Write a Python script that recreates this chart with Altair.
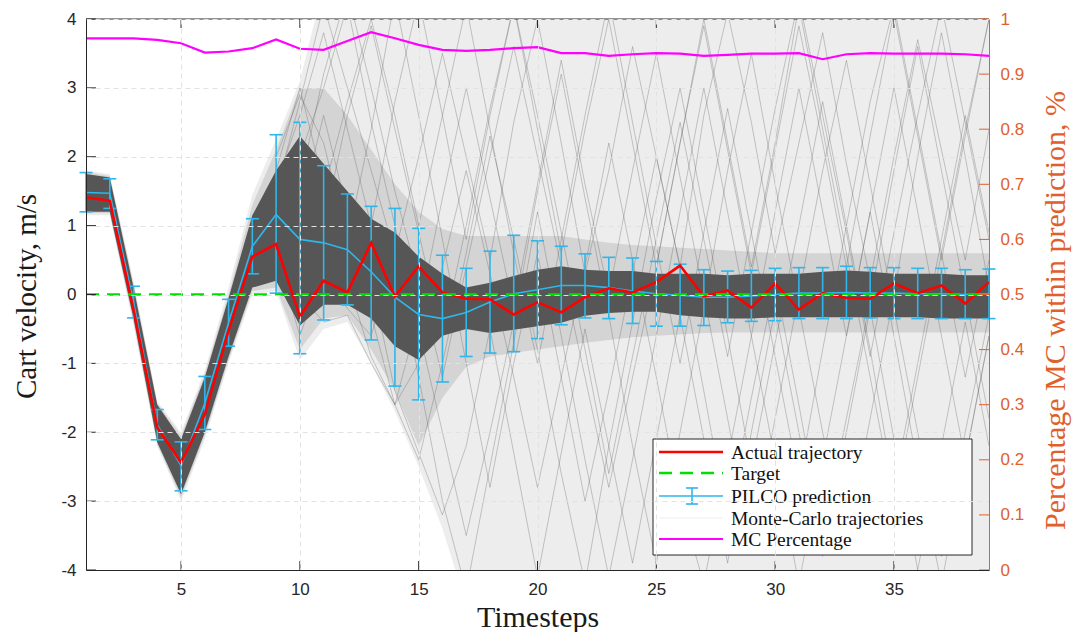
import altair as alt
import pandas as pd

# ---------------- data ----------------
T = list(range(1, 40))

ACTUAL = [1.41, 1.36, -0.22, -1.93, -2.44, -1.74, -0.52, 0.55, 0.73, -0.32,
          0.20, 0.03, 0.75, -0.03, 0.41, 0.03, -0.06, -0.07, -0.29, -0.11,
          -0.26, -0.04, 0.09, 0.03, 0.18, 0.42, -0.03, 0.06, -0.19, 0.16,
          -0.22, 0.02, -0.05, -0.06, 0.16, 0.02, 0.13, -0.13, 0.18]

TARGET = [0.0] * 39

PRED_MEAN = [1.48, 1.47, -0.11, -1.89, -2.49, -1.58, -0.41, 0.70, 1.16, 0.80,
             0.75, 0.65, 0.33, -0.04, -0.29, -0.35, -0.26, -0.11, 0.01, 0.07,
             0.13, 0.13, 0.10, 0.05, 0.01, -0.01, -0.04, -0.04, -0.02, 0.00,
             0.02, 0.02, 0.03, 0.02, 0.02, 0.01, 0.01, 0.00, 0.01]
PRED_HI = [1.77, 1.68, 0.12, -1.67, -2.14, -1.19, -0.07, 1.10, 2.32, 2.50,
           1.87, 1.46, 1.28, 1.25, 0.96, 0.57, 0.38, 0.63, 0.86, 0.78,
           0.70, 0.59, 0.54, 0.53, 0.48, 0.44, 0.36, 0.34, 0.35, 0.38,
           0.39, 0.39, 0.41, 0.39, 0.39, 0.38, 0.38, 0.36, 0.37]
PRED_LO = [1.20, 1.25, -0.34, -2.11, -2.85, -1.96, -0.75, 0.30, 0.02, -0.86,
           -0.37, -0.15, -0.66, -1.33, -1.53, -1.27, -0.90, -0.85, -0.83, -0.64,
           -0.44, -0.34, -0.35, -0.42, -0.46, -0.46, -0.45, -0.41, -0.39, -0.38,
           -0.35, -0.35, -0.35, -0.34, -0.35, -0.35, -0.35, -0.35, -0.35]

MC_PCT = [0.965, 0.965, 0.965, 0.962, 0.956, 0.939, 0.941, 0.947, 0.963, 0.946,
          0.944, 0.960, 0.976, 0.965, 0.953, 0.944, 0.942, 0.944, 0.947, 0.949,
          0.938, 0.938, 0.933, 0.936, 0.938, 0.937, 0.933, 0.935, 0.937, 0.937,
          0.938, 0.927, 0.936, 0.938, 0.937, 0.937, 0.937, 0.936, 0.933]

# Monte-Carlo cloud: outer (faint) extent, medium-density band, dense core
OUTER_LO = [1.15, 1.15, -0.45, -2.20, -3.00, -2.10, -1.00, 0.00, 0.05, -0.95,
            -0.50, -0.40, -1.00, -1.70, -2.50, -3.40, -4.5, -4.5, -4.5, -4.5,
            -4.5, -4.5, -4.5, -4.5, -4.5, -4.5, -4.5, -4.5, -4.5, -4.5,
            -4.5, -4.5, -4.5, -4.5, -4.5, -4.5, -4.5, -4.5, -4.5]
OUTER_HI = [1.80, 1.75, 0.20, -1.55, -2.00, -1.10, 0.10, 1.45, 2.25, 3.10,
            4.5, 4.5, 4.5, 4.5, 4.5, 4.5, 4.5, 4.5, 4.5, 4.5,
            4.5, 4.5, 4.5, 4.5, 4.5, 4.5, 4.5, 4.5, 4.5, 4.5,
            4.5, 4.5, 4.5, 4.5, 4.5, 4.5, 4.5, 4.5, 4.5]
MID_LO = [1.18, 1.18, -0.40, -2.18, -2.95, -2.05, -0.95, 0.05, 0.10, -0.80,
          -0.35, -0.30, -0.80, -1.40, -2.20, -1.50, -1.05, -0.90, -0.85, -0.80,
          -0.75, -0.70, -0.66, -0.62, -0.60, -0.58, -0.56, -0.55, -0.55, -0.55,
          -0.55, -0.55, -0.55, -0.55, -0.55, -0.55, -0.55, -0.55, -0.55]
MID_HI = [1.78, 1.72, 0.15, -1.58, -2.05, -1.15, 0.00, 1.30, 2.10, 3.00,
          3.00, 2.60, 2.10, 1.60, 1.20, 0.95, 0.85, 0.85, 0.85, 0.85,
          0.85, 0.80, 0.75, 0.72, 0.70, 0.68, 0.66, 0.64, 0.62, 0.60,
          0.60, 0.60, 0.60, 0.60, 0.60, 0.60, 0.60, 0.60, 0.60]
CORE_LO = [1.20, 1.20, -0.35, -2.15, -2.90, -2.00, -0.90, 0.10, 0.20, -0.45,
           -0.15, -0.15, -0.35, -0.75, -0.95, -0.60, -0.50, -0.56, -0.51, -0.46,
           -0.41, -0.31, -0.27, -0.25, -0.25, -0.30, -0.33, -0.35, -0.35, -0.33,
           -0.33, -0.33, -0.33, -0.33, -0.33, -0.33, -0.35, -0.35, -0.35]
CORE_HI = [1.75, 1.70, 0.10, -1.60, -2.10, -1.20, -0.05, 1.15, 1.80, 2.30,
           1.90, 1.50, 1.10, 0.90, 0.55, 0.30, 0.10, 0.17, 0.27, 0.36,
           0.41, 0.36, 0.34, 0.34, 0.30, 0.30, 0.30, 0.28, 0.30, 0.30,
           0.30, 0.33, 0.35, 0.33, 0.30, 0.30, 0.30, 0.28, 0.28]

# individual Monte-Carlo trajectories visible in the faint cloud (t = 9 .. 39)
SAMPLE_START = 9
SAMPLES = {
    "A": [1.5, 2.8, 4.2, 3.0, 1.8, 0.6, 2.0, 3.5, 2.0, 0.5, 2.5, 4.0, 2.2, 0.3, 1.8, 3.6,
          2.0, 0.4, 2.6, 4.1, 2.5, 0.6, 2.2, 3.8, 1.9, 0.2, 2.0, 3.7, 2.1, 0.5, 2.4],
    "B": [1.0, 2.0, 3.0, 4.2, 2.5, 1.0, -0.5, -2.0, -3.5, -2.0, -0.4, 1.5, 3.2, 1.4, -0.3, -2.2,
          -3.9, -2.0, -0.2, 1.8, 3.5, 1.6, -0.2, -2.0, -3.6, -1.8, 0.0, 2.0, 3.8, 2.0, 0.1],
    "C": [0.5, 1.2, 2.6, 1.2, -0.3, -1.6, -2.4, -1.0, 0.6, 2.3, 0.8, -0.8, -2.6, -4.2, -2.2, -0.4,
          1.4, 3.0, 1.2, -0.6, -2.5, -0.7, 1.0, 2.8, 1.0, -0.8, -2.8, -1.0, 0.8, 2.6, 0.9],
    "D": [2.0, 2.9, 2.2, 0.8, 2.4, 4.3, 2.6, 0.8, -1.0, -2.8, -1.0, 0.6, -1.2, -3.0, -1.4, 0.3,
          2.0, 0.4, -1.4, -3.3, -1.5, 0.2, -1.6, -3.5, -1.8, -0.1, 1.8, 3.6, 1.8, 0.0, -1.8],
    "E": [0.2, 0.6, 1.5, 2.8, 4.0, 2.6, 1.0, 2.6, 4.2, 2.4, 0.6, -1.0, 0.8, 2.6, 4.3, 2.5,
          0.7, -1.0, 0.9, 2.7, 0.9, -0.9, -2.7, -0.8, 1.0, 2.8, 4.2, 2.4, 0.6, -1.2, 0.5],
    "F": [1.2, 0.0, -0.4, -0.3, -1.0, -1.6, -0.3, 1.4, 3.0, 1.4, -0.2, 1.6, 3.4, 1.6, 0.0, 1.8,
          3.5, 1.7, 0.0, -1.8, -3.6, -1.8, 0.0, 1.8, 3.4, 1.6, -0.2, -2.0, -3.8, -2.0, -0.3],
    "G": [0.8, 1.6, 3.2, 4.4, 3.0, 1.5, 0.2, -1.2, 0.4, 2.0, 3.6, 2.0, 0.4, -1.2, -2.8, -1.2,
          0.4, 2.2, 4.0, 2.2, 0.4, 2.2, 4.2, 2.4, 0.6, -1.2, -3.0, -1.2, 0.6, 2.4, 4.0],
    "H": [1.8, 3.0, 1.6, 0.2, -0.9, -1.6, -1.0, 0.4, 1.8, 0.3, -1.2, -2.8, -1.2, 0.4, 2.2, 0.5,
          -1.2, -3.0, -4.2, -2.4, -0.6, 1.2, 3.0, 1.2, -0.6, 1.2, 3.0, 1.2, -0.6, -2.4, -0.6],
    "I": [1.6, 2.6, 3.8, 2.4, 1.0, 2.8, 4.3, 2.6, 0.8, 2.6, 4.2, 2.4, 0.6, 2.4, 4.0, 2.2,
          0.4, 2.2, 3.9, 2.1, 0.3, 2.1, 3.9, 2.2, 0.4, 2.3, 4.1, 2.3, 0.5, 2.3, 4.0],
    "J": [0.6, -0.6, 0.4, 1.4, 0.2, -1.4, -2.3, -3.2, -2.2, -0.5, -2.3, -4.1, -2.3, -0.5, -2.2, -3.9,
          -2.1, -0.3, -2.1, -3.9, -2.0, -0.2, -2.0, -3.8, -2.0, -0.2, -2.1, -4.0, -2.2, -0.4, -2.2],
    "K": [1.4, 2.2, 1.0, 2.6, 3.9, 2.4, 0.9, -0.6, 1.0, 2.7, 4.2, 2.6, 0.9, -0.8, -2.6, -0.9,
          0.8, 2.5, 0.8, -0.9, 0.9, 2.7, 4.3, 2.6, 0.9, -0.9, 0.9, 2.6, 4.2, 2.5, 0.8],
    "L": [0.9, -0.3, 0.3, -0.2, -0.6, 0.6, -1.2, -3.0, -4.3, -2.5, -0.7, 1.2, -0.6, -2.4, -4.1, -2.4,
          -0.6, 1.2, 3.0, 1.2, -0.6, -2.4, -4.2, -2.4, -0.6, 1.2, -0.6, -2.5, -4.2, -2.4, -0.6],
}

X_TICKS = [5, 10, 15, 20, 25, 30, 35]
Y_TICKS = [-4, -3, -2, -1, 0, 1, 2, 3, 4]
R_TICKS = [0, 0.1, 0.2, 0.3, 0.4, 0.5, 0.6, 0.7, 0.8, 0.9, 1.0]

LEGEND_LABELS = ["Actual trajectory", "Target", "PILCO prediction",
                 "Monte-Carlo trajectories", "MC Percentage"]

# ---------------- styling ----------------
W, H = 903, 551
RED = "#FF0000"
GREEN = "#00E000"
CYAN = "#2FB6EA"
MAGENTA = "#FF00FF"
ORANGE = "#E0602C"
AXC = "#262626"
SERIF = "Liberation Serif"
SANS = "Liberation Sans"

df = pd.DataFrame({
    "t": T, "actual": ACTUAL, "target": TARGET,
    "mean": PRED_MEAN, "hi": PRED_HI, "lo": PRED_LO, "mc": MC_PCT,
    "olo": OUTER_LO, "ohi": OUTER_HI, "mlo": MID_LO, "mhi": MID_HI,
    "clo": CORE_LO, "chi": CORE_HI,
})

rows = []
for name, vals in SAMPLES.items():
    for i, v in enumerate(vals):
        rows.append({"t": SAMPLE_START + i, "v": v, "id": name})
df_samples = pd.DataFrame(rows)

xsc = alt.Scale(domain=[1, 39], nice=False, zero=False)
ysc = alt.Scale(domain=[-4, 4], nice=False, zero=False)
rsc = alt.Scale(domain=[0, 1], nice=False, zero=False)

xax = alt.Axis(values=X_TICKS, title="Timesteps", grid=True, gridDash=[5, 4],
               gridColor="#e2e2e2", ticks=False, labelFont=SANS, labelFontSize=17,
               labelColor=AXC, labelPadding=11, domainColor=AXC, domainWidth=1,
               titleFont=SERIF, titleFontSize=30, titleFontWeight="normal",
               titleColor="#1a1a1a", titleX=W / 2, titleY=47, titleBaseline="middle",
               titleAlign="center", zindex=1)
yax = alt.Axis(values=Y_TICKS, title="Cart velocity, m/s", grid=True, gridDash=[5, 4],
               gridColor="#e2e2e2", ticks=False, labelFont=SANS, labelFontSize=17,
               labelColor=AXC, labelPadding=10, labelExpr="'' + datum.value",
               domainColor=AXC, domainWidth=1, titleFont=SERIF, titleFontSize=29,
               titleFontWeight="normal", titleColor="#1a1a1a", titleAngle=270,
               titleX=-60, titleY=277, titleBaseline="middle", titleAlign="center",
               zindex=1)
rax = alt.Axis(values=R_TICKS, orient="right", title="Percentage MC within prediction, %",
               grid=False, ticks=False, format=".1~f", labelFont=SANS, labelFontSize=17,
               labelColor=ORANGE, labelPadding=11, domainColor=ORANGE, domainWidth=1,
               titleFont=SERIF, titleFontSize=30, titleFontWeight="normal",
               titleColor=ORANGE, titleAngle=270, titleX=66, titleY=291,
               titleBaseline="middle", titleAlign="center", zindex=1)

X = alt.X("t:Q", scale=xsc, axis=xax)

base = alt.Chart(df)

outer = base.mark_area(color="#c8c8c8", opacity=0.33, clip=True).encode(
    x=X, y=alt.Y("olo:Q", scale=ysc, axis=yax), y2="ohi:Q")
mid = base.mark_area(color="#8a8a8a", opacity=0.25, clip=True).encode(
    x=X, y=alt.Y("mlo:Q", scale=ysc, axis=yax), y2="mhi:Q")
core = base.mark_area(color="#3a3a3a", opacity=0.82, clip=True).encode(
    x=X, y=alt.Y("clo:Q", scale=ysc, axis=yax), y2="chi:Q")
samples = alt.Chart(df_samples).mark_line(color="#5a5a5a", opacity=0.4,
                                          strokeWidth=0.8, clip=True).encode(
    x=X, y=alt.Y("v:Q", scale=ysc, axis=yax), detail="id:N")

pred_line = base.mark_line(color=CYAN, strokeWidth=1.6).encode(
    x=X, y=alt.Y("mean:Q", scale=ysc, axis=yax))
pred_bar = base.mark_rule(color=CYAN, strokeWidth=1.6).encode(
    x=X, y=alt.Y("lo:Q", scale=ysc, axis=yax), y2="hi:Q")
cap_hi = base.mark_tick(color=CYAN, orient="horizontal", size=13, thickness=1.6,
                        opacity=1).encode(x=X, y=alt.Y("hi:Q", scale=ysc, axis=yax))
cap_lo = base.mark_tick(color=CYAN, orient="horizontal", size=13, thickness=1.6,
                        opacity=1).encode(x=X, y=alt.Y("lo:Q", scale=ysc, axis=yax))

actual = base.mark_line(color=RED, strokeWidth=2.6).encode(
    x=X, y=alt.Y("actual:Q", scale=ysc, axis=yax))
target = base.mark_line(color=GREEN, strokeWidth=2.6, strokeDash=[13, 8]).encode(
    x=X, y=alt.Y("target:Q", scale=ysc, axis=yax))

# inward tick marks (MATLAB style) and top frame line
df_yt = pd.DataFrame({"v": Y_TICKS})
df_xt = pd.DataFrame({"t": X_TICKS})
df_rt = pd.DataFrame({"v": R_TICKS})
left_ticks = alt.Chart(df_yt).mark_rule(color=AXC, strokeWidth=1).encode(
    y=alt.Y("v:Q", scale=ysc, axis=yax), x=alt.value(0), x2=alt.value(10))
bottom_ticks = alt.Chart(df_xt).mark_rule(color=AXC, strokeWidth=1).encode(
    x=X, y=alt.value(H), y2=alt.value(H - 9))
top_ticks = alt.Chart(df_xt).mark_rule(color=AXC, strokeWidth=1).encode(
    x=X, y=alt.value(0), y2=alt.value(9))
top_line = alt.Chart(df_xt.head(1)).mark_rule(color=AXC, strokeWidth=1).encode(
    x=alt.value(0), x2=alt.value(W), y=alt.value(0))

# legend box (drawn as marks)
one = pd.DataFrame({"k": [0]})
LX0, LX1, LY0, LY1 = 567, 886, 420, 536
ROW_Y = [433, 454, 477, 499, 520]
legend_layers = [
    alt.Chart(one).mark_rect(fill="white", stroke=AXC, strokeWidth=1).encode(
        x=alt.value(LX0), x2=alt.value(LX1), y=alt.value(LY0), y2=alt.value(LY1))
]
sym_styles = [
    dict(color=RED, strokeWidth=2.6),
    dict(color=GREEN, strokeWidth=2.6, strokeDash=[13, 8]),
    dict(color=CYAN, strokeWidth=1.6),
    dict(color="#eeeeee", strokeWidth=1.0),
    dict(color=MAGENTA, strokeWidth=2.0),
]
for lab, yy, st in zip(LEGEND_LABELS, ROW_Y, sym_styles):
    legend_layers.append(alt.Chart(one).mark_rule(**st).encode(
        x=alt.value(573), x2=alt.value(637), y=alt.value(yy)))
    legend_layers.append(alt.Chart(pd.DataFrame({"label": [lab]})).mark_text(
        align="left", baseline="middle", font=SERIF, fontSize=19.5, color="#111111").encode(
        x=alt.value(645), y=alt.value(yy + 1), text="label:N"))
# error-bar glyph in the PILCO entry
legend_layers.append(alt.Chart(one).mark_rule(color=CYAN, strokeWidth=1.6).encode(
    x=alt.value(606), y=alt.value(ROW_Y[2] - 8), y2=alt.value(ROW_Y[2] + 8)))
for dy in (-8, 8):
    legend_layers.append(alt.Chart(one).mark_rule(color=CYAN, strokeWidth=1.6).encode(
        x=alt.value(600), x2=alt.value(612), y=alt.value(ROW_Y[2] + dy)))

left = alt.layer(outer, mid, core, samples, pred_line, pred_bar, cap_hi, cap_lo,
                 actual, target, left_ticks, bottom_ticks, top_ticks, top_line,
                 *legend_layers)

mc_line = base.mark_line(color=MAGENTA, strokeWidth=2.2).encode(
    x=X, y=alt.Y("mc:Q", scale=rsc, axis=rax))
right_ticks = alt.Chart(df_rt).mark_rule(color=ORANGE, strokeWidth=1).encode(
    y=alt.Y("v:Q", scale=rsc, axis=rax), x=alt.value(W - 10), x2=alt.value(W))
right = alt.layer(mc_line, right_ticks)

chart = alt.layer(left, right).resolve_scale(y="independent").properties(
    width=W, height=H,
    padding={"left": 86, "top": 19, "right": 90, "bottom": 62},
    autosize=alt.AutoSizeParams(type="none"),
    background="white",
).configure_view(stroke=None)

chart.save("out.html", embed_options={"renderer": "svg", "actions": False})
